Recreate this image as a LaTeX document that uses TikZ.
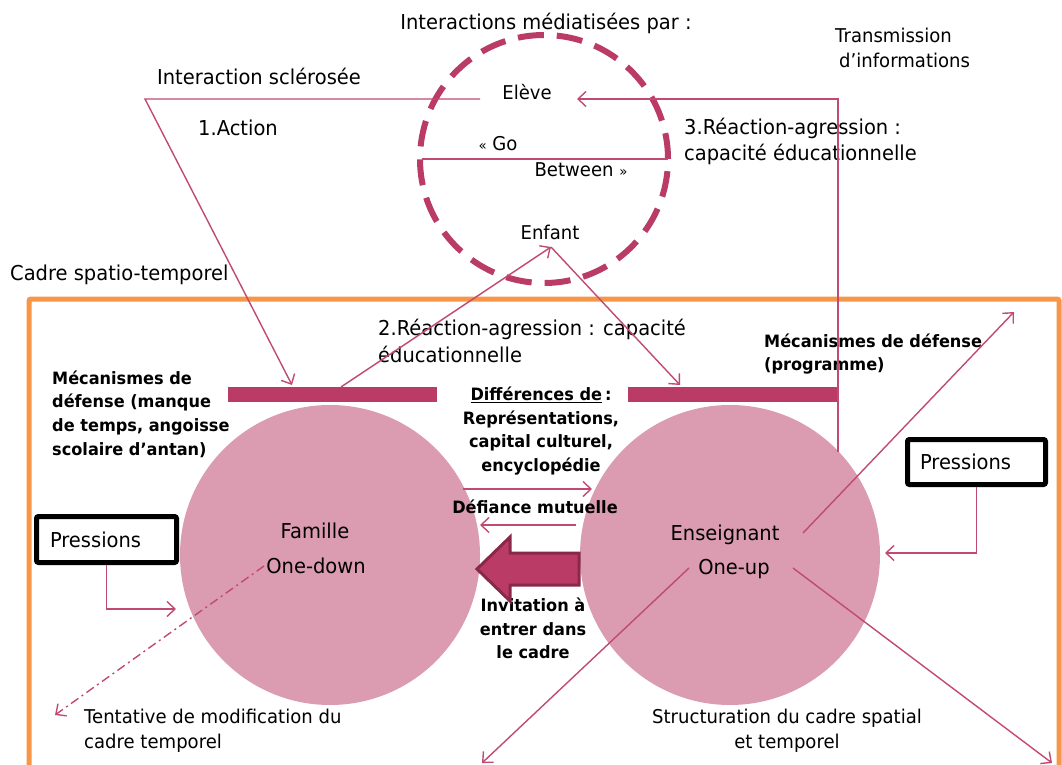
\documentclass[tikz,border=0pt]{standalone}
\usepackage{fontspec}
\setmainfont[FakeStretch=0.95]{DejaVu Sans}
\usetikzlibrary{arrows.meta}
\definecolor{rose}{RGB}{186,60,102}
\definecolor{roseline}{RGB}{192,74,114}
\definecolor{rosefill}{RGB}{219,155,176}
\definecolor{rosedark}{RGB}{138,40,72}
\definecolor{cadreorange}{RGB}{247,150,70}
\begin{document}
\begin{tikzpicture}[x=1pt,y=-1pt,
  lbl/.style={inner sep=0pt, font=\fontsize{20.5}{26.5}\selectfont},
  sml/.style={inner sep=0pt, font=\fontsize{19}{25}\selectfont},
  bld/.style={inner sep=0pt, font=\fontsize{17}{23.7}\selectfont\bfseries},
  conn/.style={draw=roseline, line width=1.4pt},
  arr/.style={conn, -{Straight Barb[length=8pt,width=15pt]}},
  bar/.style={fill=rose, minimum height=15pt, inner sep=0pt},
  disc/.style={circle, fill=rosefill, minimum size=300pt, inner sep=0pt},
  pbox/.style={draw=black, line width=5pt, rounded corners=2pt, fill=white,
    font=\fontsize{20.5}{24}\selectfont, align=left, minimum height=46pt},
  bigarrow/.style={fill=rose, draw=rosedark, line width=3pt, line join=miter}]
\useasboundingbox (0,0) rectangle (1062,765);

% frame of the spatio-temporal setting
\draw[cadreorange, line width=5pt, rounded corners=2pt] (29,800) -- (29,299) -- (1059,299) -- (1059,800);
\node[lbl, anchor=west] (cadre) at (10,275) {Cadre spatio-temporel};

% the two partners
\node[disc] (fam) at (330,555) {};
\node[disc] (ens) at (730,555) {};
\node[bar, minimum width=209pt] (barF) at (332.5,394.5) {};
\node[bar, minimum width=210pt] (barE) at (733,394.5) {};

% mediating ring
\node[circle, draw=rose, line width=6pt, dash pattern=on 26pt off 13pt,
      minimum size=248pt, inner sep=0pt] (ring) at (544,159) {};

% titles and labels
\node[lbl] (title) at (546,23) {Interactions médiatisées par~:};
\node[sml, anchor=west, align=left] (trans) at (835,47.5) {Transmission\\\hspace*{4pt}d’informations};
\node[lbl] (scl) at (259,76) {Interaction sclérosée};
\node[lbl, anchor=west] (action) at (198,128) {1.Action};
\node[sml] (eleve) at (527,92) {Elève};
\node[sml] (go) at (498,144) {{\fontsize{14}{14}\selectfont «}~Go};
\node[sml] (between) at (581,170) {Between~{\fontsize{14}{14}\selectfont »}};
\node[sml] (enfant) at (550,232) {Enfant};
\node[lbl, anchor=west, align=left] (react3) at (684,141.5) {3.Réaction-agression~:\\capacité éducationnelle};
\node[lbl, anchor=west, align=left] (react2) at (378,341) {2.Réaction-agression~: capacité\\éducationnelle};

\node[bld, anchor=west, align=left] (mecaF) at (52,414) {Mécanismes de\\défense (manque\\de temps, angoisse\\scolaire d’antan)};
\node[bld, anchor=west, align=left] (mecaE) at (764,354) {Mécanismes de défense\\(programme)};

\node[bld, align=center] (diff) at (541,431) {\underline{Différences de}\,:\\Représentations,\\capital culturel,\\encyclopédie};
\node[bld] (defi) at (535,507) {Défiance mutuelle};
\node[bld, align=center] (invit) at (533,628.5) {Invitation à\\entrer dans\\le cadre};

\node[lbl] (famT) at (315,531) {Famille};
\node[lbl] (famR) at (316,566) {One-down};
\node[lbl] (ensT) at (725,535) {Enseignant};
\node[lbl] (ensR) at (734,569) {One-up};

\node[sml, anchor=west, align=left] (tenta) at (84,730.5) {Tentative de modification du\\cadre temporel};
\node[sml, align=center] (struct) at (787,730.5) {Structuration du cadre spatial\\et temporel};

% pressure boxes
\node[pbox, anchor=center, text width=113pt, inner xsep=13.5pt] (pressF) at (106.5,539.5) {Pressions};
\node[pbox, anchor=center, text width=113pt, inner xsep=12.5pt, minimum height=45pt] (pressE) at (976.5,462) {Pressions};

% anchor points of the connectors
\coordinate (sclA) at (480,99);
\coordinate (sclB) at (145,99);
\coordinate (actTip) at (292,385);
\coordinate (r2From) at (341,387);
\coordinate (enfTip) at (551,247);
\coordinate (r2Tip) at (680,385);
\coordinate (trFrom) at (838,452);
\coordinate (trBend) at (838,99);
\coordinate (trTip) at (577,99);
\coordinate (goL) at (422,159);
\coordinate (goR) at (668,159);
\coordinate (pFin) at (176,609);
\coordinate (pEin) at (885,553);
\coordinate (difA) at (463,489);
\coordinate (difB) at (592,489);
\coordinate (defA) at (576,525);
\coordinate (defB) at (480,525);
\coordinate (tentFrom) at (264,566);
\coordinate (tentTip) at (55,715);
\coordinate (ensA) at (803,533);
\coordinate (ensATip) at (1014,312);
\coordinate (ensB) at (793,568);
\coordinate (ensBTip) at (1052,763);
\coordinate (ensC) at (689,568);
\coordinate (ensCTip) at (482,763);

% connectors
\draw[arr] (sclA) -- (sclB) -- (actTip);
\draw[arr] (r2From) -- (enfTip);
\draw[arr] (enfTip) -- (r2Tip);
\draw[arr] (trFrom) -- (trBend) -- (trTip);
\draw[conn] (goL) -- (goR);
\draw[arr] (pressF.south) |- (pFin);
\draw[arr] (pressE.south) |- (pEin);
\draw[arr] (difA) -- (difB);
\draw[arr] (defA) -- (defB);
\draw[arr, dash pattern=on 9pt off 4pt on 2pt off 4pt] (tentFrom) -- (tentTip);
\draw[arr] (ensA) -- (ensATip);
\draw[arr] (ensB) -- (ensBTip);
\draw[arr] (ensC) -- (ensCTip);

% invitation arrow
\draw[bigarrow] (579,553) -- (510,553) -- (510,537) -- (477,569) -- (510,601) -- (510,585) -- (579,585) -- cycle;
\end{tikzpicture}
\end{document}
